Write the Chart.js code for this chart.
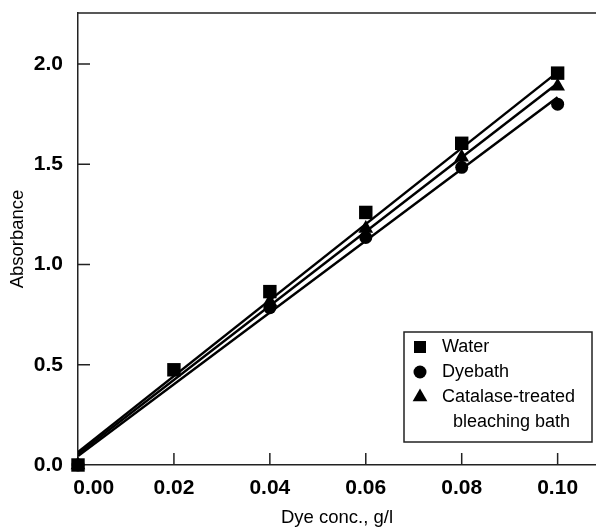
<!DOCTYPE html>
<html>
<head>
<meta charset="utf-8">
<script src="https://cdn.jsdelivr.net/npm/chart.js@4.4.1/dist/chart.umd.min.js"></script>
<style>
    body { margin: 0; background: #fff; }
    #wrap { width: 596px; height: 529px; }
</style>
</head>
<body>
<div id="wrap"><canvas id="absChart" width="596" height="529"></canvas></div>
<script>
// Absorbance vs dye concentration

const concX = [0, 0.02, 0.04, 0.06, 0.08, 0.10];
const waterAbs = [0, 0.475, 0.865, 1.26, 1.605, 1.955];
const dyebathAbs = [0, null, 0.785, 1.135, 1.485, 1.80];
const catalaseAbs = [0, null, 0.815, 1.18, 1.535, 1.89];

const fitX = [0, 0.10];
const waterFit = [0.065, 1.96];
const dyebathFit = [0.045, 1.835];
const catalaseFit = [0.055, 1.905];

const seriesLabels = ['Water', 'Dyebath', ['Catalase-treated', 'bleaching bath']];
const yTicks = [0.5, 1.0, 1.5, 2.0];
const xTicks = [0.02, 0.04, 0.06, 0.08, 0.10];

const FONT = '"Liberation Sans", Arial, sans-serif';

function toPoints(xs, ys) {
    return xs.map((x, i) => ({ x: x, y: ys[i] })).filter(p => p.y !== null);
}

function markerSet(label, ys, style, radius) {
    return {
        type: 'scatter',
        label: label,
        data: toPoints(concX, ys),
        pointStyle: style,
        pointRadius: radius,
        pointBackgroundColor: '#000',
        pointBorderWidth: 0,
        showLine: false,
        clip: false,
        order: 1
    };
}

function fitSet(ys) {
    return {
        type: 'line',
        label: '',
        data: toPoints(fitX, ys),
        borderColor: '#000',
        borderWidth: 2.5,
        pointRadius: 0,
        fill: false,
        order: 2
    };
}

// inward tick marks and the top frame line
const frameTicks = {
    id: 'frameTicks',
    afterDraw(chart) {
        const ctx = chart.ctx;
        const area = chart.chartArea;
        const xs = chart.scales.x, ys = chart.scales.y;
        ctx.save();
        ctx.strokeStyle = '#222';
        ctx.lineWidth = 1.5;
        ctx.beginPath();
        ctx.moveTo(area.left, area.top);
        ctx.lineTo(area.right, area.top);
        yTicks.forEach(v => {
            const py = ys.getPixelForValue(v);
            ctx.moveTo(area.left, py);
            ctx.lineTo(area.left + 12, py);
        });
        xTicks.forEach(v => {
            const px = xs.getPixelForValue(v);
            ctx.moveTo(px, area.bottom);
            ctx.lineTo(px, area.bottom - 12);
        });
        ctx.stroke();
        ctx.restore();
    }
};

// boxed legend inside the plot
const boxLegend = {
    id: 'boxLegend',
    afterDraw(chart) {
        const ctx = chart.ctx;
        const bx = 404, by = 332, bw = 188, bh = 110;
        ctx.save();
        ctx.fillStyle = '#fff';
        ctx.fillRect(bx, by, bw, bh);
        ctx.strokeStyle = '#222';
        ctx.lineWidth = 1.5;
        ctx.strokeRect(bx, by, bw, bh);
        ctx.font = '18px ' + FONT;
        ctx.textBaseline = 'middle';
        const marks = chart.data.datasets.filter(d => d.type === 'scatter');
        marks.forEach((d, i) => {
            const rowY = by + 15 + i * 25;
            ctx.fillStyle = '#000';
            Chart.helpers.drawPoint(ctx, {
                pointStyle: d.pointStyle,
                radius: d.pointStyle === 'circle' ? 6.5 : 8.5,
                rotation: 0,
                borderWidth: 0
            }, bx + 16, rowY);
            const lines = Array.isArray(d.label) ? d.label : [d.label];
            lines.forEach((t, j) => {
                ctx.fillText(t, bx + 38 + (j > 0 ? 11 : 0), rowY + j * 25);
            });
        });
        ctx.restore();
    }
};

new Chart(document.getElementById('absChart'), {
    type: 'scatter',
    data: {
        datasets: [
            markerSet(seriesLabels[0], waterAbs, 'rect', 9.5),
            markerSet(seriesLabels[1], dyebathAbs, 'circle', 6.5),
            markerSet(seriesLabels[2], catalaseAbs, 'triangle', 8.5),
            fitSet(waterFit),
            fitSet(dyebathFit),
            fitSet(catalaseFit)
        ]
    },
    options: {
        responsive: false,
        animation: false,
        devicePixelRatio: 1,
        layout: { autoPadding: false, padding: { top: 13, right: 0, left: 0, bottom: 0 } },
        plugins: {
            legend: { display: false },
            tooltip: { enabled: false }
        },
        scales: {
            x: {
                type: 'linear',
                min: 0,
                max: 0.108,
                afterFit: s => { s.height = 64; s.paddingLeft = 0; s.paddingRight = 0; },
                grid: { display: false, drawTicks: false },
                border: { display: true, color: '#222', width: 1.5 },
                ticks: {
                    stepSize: 0.02,
                    includeBounds: false,
                    maxRotation: 0,
                    padding: 11,
                    color: '#000',
                    font: { family: FONT, size: 21, weight: 'bold' },
                    callback: v => v === 0 ? '\u2002\u2002\u2002' + v.toFixed(2) : v.toFixed(2)
                },
                title: {
                    display: true,
                    text: 'Dye conc., g/l',
                    color: '#000',
                    padding: { top: 0, bottom: 0 },
                    font: { family: FONT, size: 18.5 }
                }
            },
            y: {
                min: 0,
                max: 2.255,
                afterFit: s => { s.width = 78; s.paddingTop = 0; s.paddingBottom = 0; },
                grid: { display: false, drawTicks: false },
                border: { display: true, color: '#222', width: 1.5 },
                ticks: {
                    stepSize: 0.5,
                    includeBounds: false,
                    padding: 15,
                    color: '#000',
                    font: { family: FONT, size: 21, weight: 'bold' },
                    callback: v => v.toFixed(1)
                },
                title: {
                    display: true,
                    text: 'Absorbance',
                    color: '#000',
                    padding: { top: 7, bottom: 0 },
                    font: { family: FONT, size: 18.5 }
                }
            }
        }
    },
    plugins: [frameTicks, boxLegend]
});
</script>
</body>
</html>
